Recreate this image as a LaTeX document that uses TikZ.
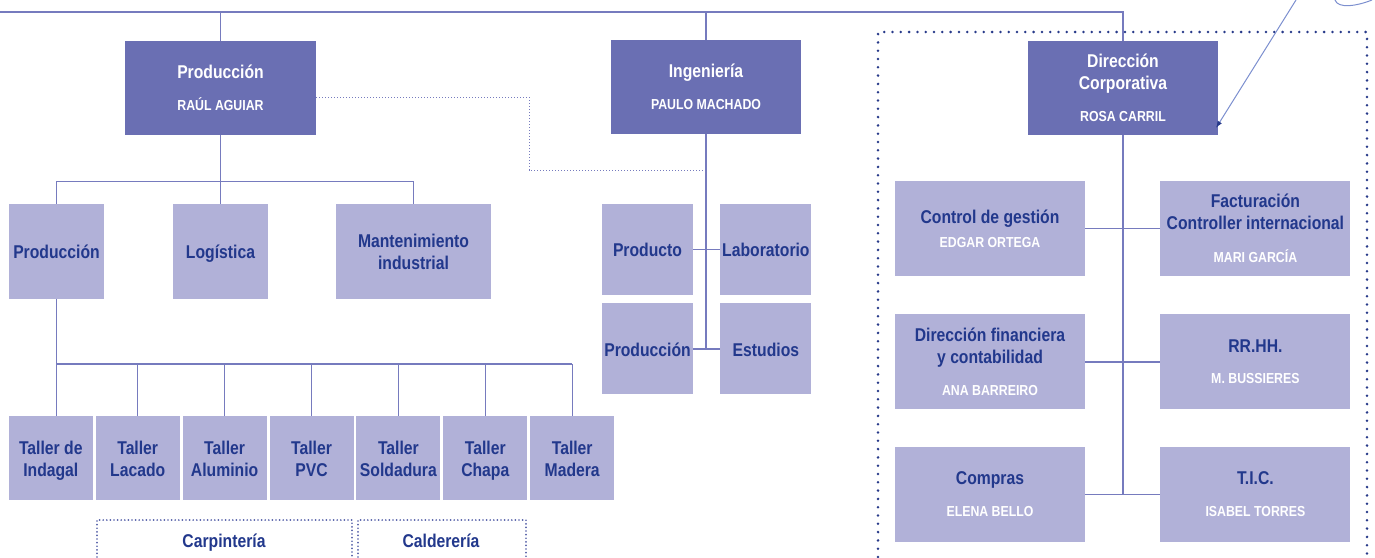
\documentclass[tikz,border=0pt]{standalone}
\usepackage{fontspec}
\setmainfont{Liberation Sans}[FakeStretch=0.85]
\usetikzlibrary{positioning, arrows.meta}
\definecolor{headblue}{HTML}{6A6FB3}
\definecolor{unitlilac}{HTML}{B1B1D8}
\definecolor{titleblue}{HTML}{22388C}
\definecolor{linkblue}{HTML}{767BBE}
\definecolor{dotnavy}{HTML}{283A8A}
\definecolor{penblue}{HTML}{7D90CF}

\newcommand{\titlefont}{\fontsize{18.5}{22}\selectfont\bfseries}
\newcommand{\namefont}{\fontsize{14.5}{16}\selectfont\bfseries}
\newcommand{\staff}[3][10pt]{#2\\[#1]{\namefont\color{white}#3}}
\newcommand{\lift}{\rule{0pt}{21pt}}

\tikzset{
  headbox/.style={fill=headblue, text=white, font=\titlefont, align=center,
                  inner sep=0pt, minimum width=190pt, minimum height=94pt},
  unitbox/.style={fill=unitlilac, text=titleblue, font=\titlefont, align=center,
                  inner sep=0pt},
  evenbox/.style={unitbox, execute at end node=\strut},
  squarebox/.style={evenbox, minimum width=91pt, minimum height=91pt},
  tallerbox/.style={evenbox, minimum width=84pt, minimum height=84pt},
  corpbox/.style={unitbox, minimum width=190pt, minimum height=95pt},
  grouplabel/.style={font=\titlefont, text=titleblue, anchor=base},
  link/.style={draw=linkblue, line width=1.3pt},
  softdots/.style={draw=linkblue, line width=0.9pt, dash pattern=on 0.9pt off 2.1pt},
  groupdots/.style={draw=dotnavy, line width=2.8pt, line cap=round, dash pattern=on 0pt off 8.3pt},
  bracketdots/.style={draw=linkblue!55!dotnavy, line width=1.9pt, line cap=round, dash pattern=on 0pt off 3.6pt},
  pen/.style={draw=penblue, line width=1pt}
}

\begin{document}
\begin{tikzpicture}[x=1pt, y=-1pt]
  \useasboundingbox (0,0) rectangle (1375,557);

  % direcciones
  \node[headbox, minimum width=191pt] (prodhead) at (220.5,88) {\staff{Producción}{RAÚL AGUIAR}};
  \node[headbox] (ingenieria) at (706,87) {\staff{Ingeniería}{PAULO MACHADO}};
  \node[headbox] (dircorp) at (1123,88) {\staff{Dirección\\Corporativa}{ROSA CARRIL}};

  \coordinate (topbar) at (0,12);
  \draw[link] (topbar) -| (dircorp.north);
  \draw[link] (prodhead.north) -- (prodhead.north |- topbar);
  \draw[link] (ingenieria.north) -- (ingenieria.north |- topbar);

  % produccion
  \node[evenbox, minimum width=95pt, minimum height=95pt] (produnit) at (56.5,251.5) {\lift Producción};
  \node[evenbox, minimum width=95pt, minimum height=95pt] (logistica) at (220.5,251.5) {\lift Logística};
  \node[evenbox, minimum width=155pt, minimum height=95pt] (mantenimiento) at (413.5,251.5) {\lift Mantenimiento\\industrial};

  \draw[link] (prodhead.south) -- (logistica.north);
  \draw[link] (produnit.north) -- ++(0,-22) -| (mantenimiento.north);

  % talleres
  \foreach \tname/\tlabel [count=\i from 0] in {indagal/{Taller de\\Indagal}, lacado/{Taller\\Lacado},
      aluminio/{Taller\\Aluminio}, pvc/{Taller\\PVC}, soldadura/{Taller\\Soldadura},
      chapa/{Taller\\Chapa}, madera/{Taller\\Madera}}
    \node[tallerbox] (\tname) at (50.8+86.9*\i,458) {\lift\tlabel};

  \coordinate (tallerbar) at (0,364);
  \draw[link] (produnit.south) -- (produnit.south |- indagal.north);
  \draw[link] (produnit.south |- tallerbar) -- (madera.north |- tallerbar);
  \foreach \tname in {lacado, aluminio, pvc, soldadura, chapa, madera}
    \draw[link] (\tname.north) -- (\tname.north |- tallerbar);

  \draw[bracketdots] (97,557) |- (352,520) -- (352,557);
  \draw[bracketdots] (358,557) |- (526,520) -- (526,557);
  \node[grouplabel] (carpinteria) at (224,547) {Carpintería};
  \node[grouplabel] (caldereria) at (441,547) {Calderería};

  % ingenieria
  \node[squarebox] (producto) at (647.5,249.5) {\lift Producto};
  \node[squarebox, right=27pt of producto] (laboratorio) {\lift Laboratorio};
  \node[squarebox, below=8pt of producto] (ingprod) {\lift Producción};
  \node[squarebox, below=8pt of laboratorio] (estudios) {\lift Estudios};

  \draw[link] (ingenieria.south) -- (ingenieria.south |- estudios.west);
  \draw[link] (producto) -- (laboratorio);
  \draw[link] (ingprod) -- (estudios);
  \draw[softdots] ([yshift=-9pt]prodhead.east) -| (529,170) -- (ingenieria.south |- 529,170);

  % direccion corporativa
  \draw[groupdots] (878,557) |- (1367,32) -- (1367,557);
  \node[corpbox] (control) at (990,228.5) {\staff[2pt]{Control de gestión}{EDGAR ORTEGA}};
  \node[corpbox, right=75pt of control] (factura) {\staff[11pt]{Facturación\\Controller internacional}{MARI GARCÍA}};
  \node[corpbox, below=38pt of control] (finanzas) {\staff{Dirección financiera\\y contabilidad}{ANA BARREIRO}};
  \node[corpbox, below=38pt of factura] (rrhh) {\staff[9pt]{RR.HH.}{M. BUSSIERES}};
  \node[corpbox, below=37pt of finanzas] (compras) {\staff{Compras}{ELENA BELLO}};
  \node[corpbox, below=37pt of rrhh] (tic) {\staff{T.I.C.}{ISABEL TORRES}};

  \draw[link] (dircorp.south) -- (dircorp.south |- tic.west);
  \draw[link] (control) -- (factura);
  \draw[link] (finanzas) -- (rrhh);
  \draw[link] (compras) -- (tic);

  % trazo a mano
  \coordinate (penstart) at (1296,0);
  \coordinate (pentip) at (1216,128);
  \draw[pen, -{Latex[length=7pt, width=5pt, color=dotnavy]}] (penstart) -- (pentip);
  \draw[pen] (1335,0) .. controls (1338,9) and (1357,6) .. (1372,0);
\end{tikzpicture}
\end{document}
